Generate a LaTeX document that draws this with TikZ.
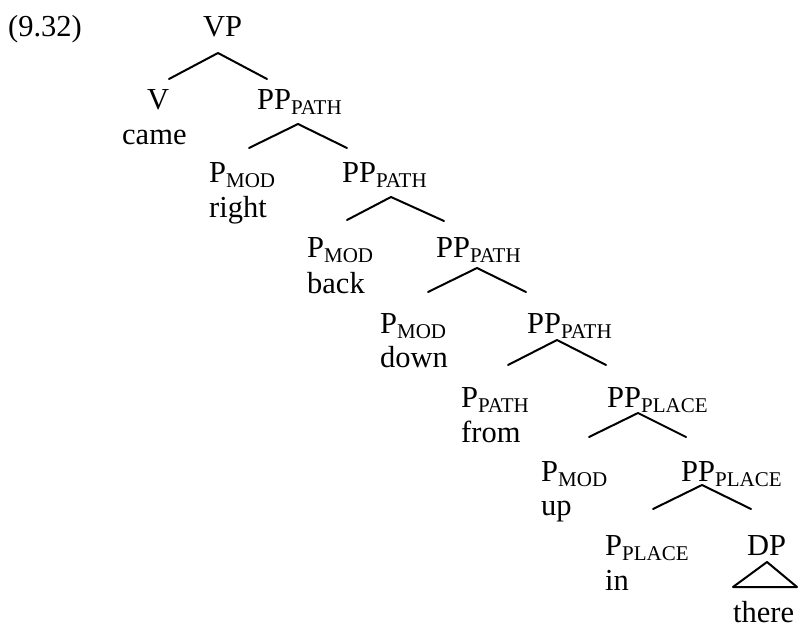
\documentclass[tikz,border=0pt]{standalone}
\usepackage{fontspec}
\setmainfont{Liberation Serif}
\newcommand\sbx[1]{\raisebox{-5pt}{\fontsize{21}{21}\selectfont #1}}
\tikzset{
  lbl/.style={anchor=base west, inner sep=0pt, font=\fontsize{30.5}{30.5}\selectfont},
  edge/.style={line width=2pt, line cap=round, line join=round}
}
\begin{document}
\begin{tikzpicture}[x=1pt,y=-1pt]
\useasboundingbox (0,0) rectangle (800,628);
% labels
\node[lbl] (ex) at (8,37) {(9.32)};
\node[lbl] (vp) at (203,37) {VP};
\node[lbl] (v) at (147,110) {V};
\node[lbl] (came) at (122,145) {came};
\node[lbl] (pp1) at (257,110) {PP\sbx{PATH}};
\node[lbl] (p2) at (209,183) {P\sbx{MOD}};
\node[lbl] (right) at (209,218) {right};
\node[lbl] (pp2) at (342,183) {PP\sbx{PATH}};
\node[lbl] (p3) at (307,258) {P\sbx{MOD}};
\node[lbl] (back) at (307,293) {back};
\node[lbl] (pp3) at (436,258) {PP\sbx{PATH}};
\node[lbl] (p4) at (380,333) {P\sbx{MOD}};
\node[lbl] (down) at (380,367) {down};
\node[lbl] (pp4) at (527,333) {PP\sbx{PATH}};
\node[lbl] (p5) at (461,407) {P\sbx{PATH}};
\node[lbl] (from) at (461,442) {from};
\node[lbl] (pp5) at (607,407) {PP\sbx{PLACE}};
\node[lbl] (p6) at (541,481) {P\sbx{MOD}};
\node[lbl] (up) at (541,515) {up};
\node[lbl] (pp6) at (681,481) {PP\sbx{PLACE}};
\node[lbl] (p7) at (605,555) {P\sbx{PLACE}};
\node[lbl] (in) at (605,590) {in};
\node[lbl] (dp) at (747,555) {DP};
\node[lbl] (there) at (733,622) {there};
% branch points
\coordinate (a0) at (218,53);  \coordinate (l0) at (169,79);  \coordinate (r0) at (267,79);
\coordinate (a1) at (298,124); \coordinate (l1) at (249,148); \coordinate (r1) at (347,148);
\coordinate (a2) at (391,197); \coordinate (l2) at (347,220); \coordinate (r2) at (444,221);
\coordinate (a3) at (477,268); \coordinate (l3) at (428,292); \coordinate (r3) at (526,292);
\coordinate (a4) at (557,340); \coordinate (l4) at (508,365); \coordinate (r4) at (606,365);
\coordinate (a5) at (638,413); \coordinate (l5) at (589,437); \coordinate (r5) at (686,437);
\coordinate (a6) at (702,485); \coordinate (l6) at (653,509); \coordinate (r6) at (751,509);
\coordinate (t0) at (767,562); \coordinate (tl) at (733,587); \coordinate (tr) at (797,587);
\foreach \i in {0,...,6}{
  \draw[edge] (l\i) -- (a\i) -- (r\i);
}
\draw[edge] (t0) -- (tl) -- (tr) -- cycle;
\end{tikzpicture}
\end{document}
